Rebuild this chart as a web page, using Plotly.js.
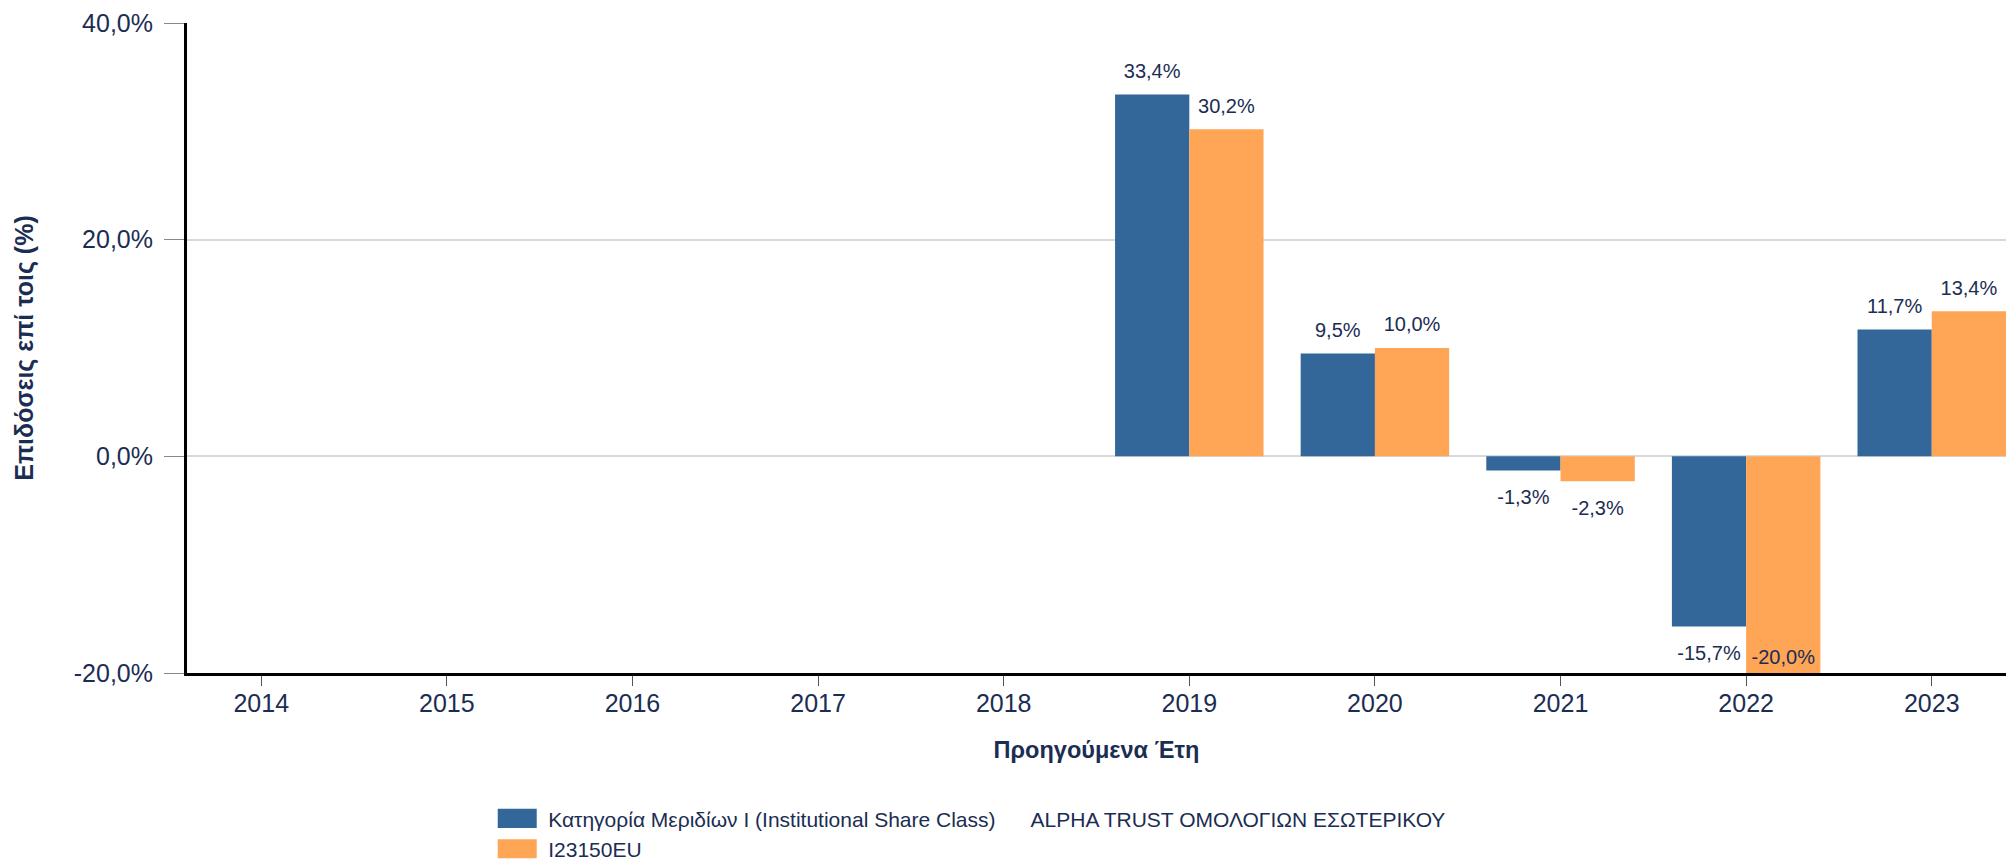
<!DOCTYPE html>
<html>
<head>
<meta charset="utf-8">
<script src="https://cdn.plot.ly/plotly-3.0.1.min.js"></script>
<style>
html, body { margin: 0; padding: 0; background: #ffffff; }
#chart { width: 2015px; height: 863px; }
</style>
</head>
<body>
<div id="chart"></div>
<script>
// ---- data ----
const years = ['2014', '2015', '2016', '2017', '2018', '2019', '2020', '2021', '2022', '2023'];
const fundName = 'Κατηγορία Μεριδίων I (Institutional Share Class)&nbsp;&nbsp;&nbsp;&nbsp;&nbsp;&nbsp;ALPHA TRUST ΟΜΟΛΟΓΙΩΝ ΕΣΩΤΕΡΙΚΟΥ';
const benchName = 'I23150EU';
const fundReturns = [null, null, null, null, null, 33.4, 9.5, -1.3, -15.7, 11.7];
const benchReturns = [null, null, null, null, null, 30.2, 10.0, -2.3, -20.0, 13.4];
const yTicks = [-20, 0, 20, 40];

// ---- style ----
const navy = '#1b2d52';
const font = 'Arial, "Liberation Sans", sans-serif';
const yMin = -20, yMax = 40;
const blue = '#336699';
const orange = '#ffa556';

function fmtPct(v) { return v.toFixed(1).replace('.', ',') + '%'; }

function barTrace(name, vals, color, group) {
  return {
    type: 'bar',
    name: name,
    x: years,
    y: vals,
    offsetgroup: group,
    marker: { color: color, line: { width: 0 } },
    hoverinfo: 'skip'
  };
}

// value labels: invisible markers give the label its distance from the bar end
function labelTrace(vals, group) {
  return {
    type: 'scatter',
    mode: 'markers+text',
    x: years,
    y: vals,
    offsetgroup: group,
    showlegend: false,
    cliponaxis: false,
    texttemplate: '%{y:.1f}%',
    textposition: vals.map(v => (v !== null && (v >= 0 || v <= yMin)) ? 'top center' : 'bottom center'),
    textfont: { family: font, size: 20, color: navy },
    marker: {
      opacity: 0,
      size: vals.map(v => v === null ? 0 : (v <= yMin ? 4.5 : (v >= 0 ? 17 : 28)))
    },
    hoverinfo: 'skip'
  };
}

const data = [
  barTrace(fundName, fundReturns, blue, 'a'),
  barTrace(benchName, benchReturns, orange, 'b'),
  labelTrace(fundReturns, 'a'),
  labelTrace(benchReturns, 'b')
];

const layout = {
  width: 2015,
  height: 863,
  paper_bgcolor: '#ffffff',
  plot_bgcolor: '#ffffff',
  margin: { l: 187, r: 9, t: 23, b: 190 },
  barmode: 'group',
  bargap: 0.2,
  bargroupgap: 0,
  scattermode: 'group',
  scattergap: 0.2,
  separators: ',.',
  font: { family: font, color: navy },
  showlegend: true,
  legend: {
    orientation: 'v',
    xref: 'paper',
    x: 0.170,
    xanchor: 'left',
    yref: 'container',
    y: 0.075,
    yanchor: 'top',
    itemwidth: 42,
    font: { family: font, size: 21, color: navy },
    bgcolor: 'rgba(0,0,0,0)',
    tracegroupgap: 0,
    traceorder: 'normal'
  },
  xaxis: {
    type: 'category',
    range: [-0.4, 9.4],
    showgrid: false,
    showline: true,
    linecolor: '#000000',
    linewidth: 3,
    ticks: 'outside',
    ticklen: 10,
    tickwidth: 1,
    tickcolor: '#555555',
    ticklabelstandoff: -4,
    tickfont: { family: font, size: 25, color: navy },
    title: {
      text: '<b>Προηγούμενα Έτη</b>',
      font: { family: font, size: 23.5, color: navy },
      standoff: 26
    },
    zeroline: false,
    automargin: false,
    fixedrange: true
  },
  yaxis: {
    range: [yMin, yMax],
    tickvals: yTicks,
    ticktext: yTicks.map(fmtPct),
    showgrid: true,
    gridcolor: '#d9d9d9',
    gridwidth: 2,
    zeroline: true,
    zerolinecolor: '#d9d9d9',
    zerolinewidth: 2,
    showline: true,
    linecolor: '#000000',
    linewidth: 3,
    ticks: 'outside',
    ticklen: 20,
    tickwidth: 1,
    tickcolor: '#888888',
    ticklabelstandoff: 6,
    tickfont: { family: font, size: 25, color: navy },
    title: {
      text: '<b>Επιδόσεις επί τοις (%)</b>',
      font: { family: font, size: 25, color: navy },
      standoff: 34
    },
    automargin: false,
    fixedrange: true
  }
};

Plotly.newPlot('chart', data, layout, { displayModeBar: false, staticPlot: true }).then(function (gd) {
  // widen the legend swatches to the reference's rectangular keys
  gd.querySelectorAll('.legend .legendpoints path').forEach(function (p) {
    const tr = p.getAttribute('transform') || '';
    p.setAttribute('transform', tr + ' translate(-5,0) scale(3.25,1.6)');
  });
});
</script>
</body>
</html>
